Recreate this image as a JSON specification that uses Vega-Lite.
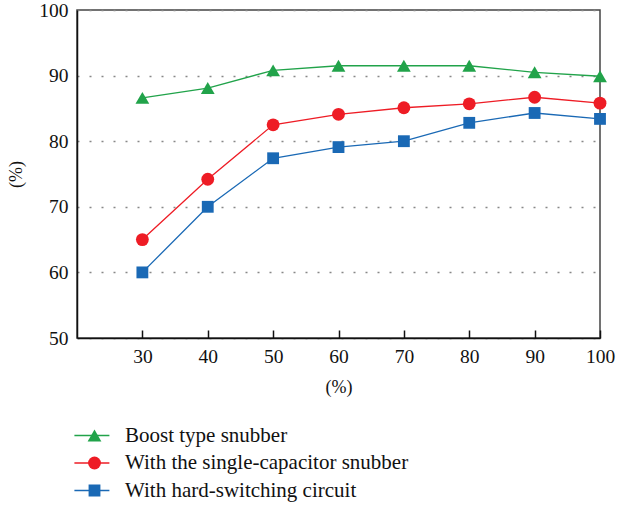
{
  "$schema": "https://vega.github.io/schema/vega-lite/v6.json",
  "width": 523,
  "height": 328,
  "autosize": "none",
  "padding": {"left": 77, "top": 10, "right": 17, "bottom": 167},
  "background": "white",
  "config": {
    "font": "Liberation Serif",
    "view": {"stroke": "#444", "strokeWidth": 1.5},
    "axis": {
      "labelFont": "Liberation Serif",
      "titleFont": "Liberation Serif",
      "labelFontSize": 19.5,
      "titleFontSize": 18,
      "titleFontWeight": "normal",
      "labelColor": "#111",
      "titleColor": "#111",
      "domainColor": "#111",
      "domainWidth": 1.5
    }
  },
  "data": {
    "values": [
      {"load": 30, "eff": 86.6, "series": "Boost type snubber"},
      {"load": 40, "eff": 88.1, "series": "Boost type snubber"},
      {"load": 50, "eff": 90.8, "series": "Boost type snubber"},
      {"load": 60, "eff": 91.5, "series": "Boost type snubber"},
      {"load": 70, "eff": 91.5, "series": "Boost type snubber"},
      {"load": 80, "eff": 91.5, "series": "Boost type snubber"},
      {"load": 90, "eff": 90.5, "series": "Boost type snubber"},
      {"load": 100, "eff": 89.9, "series": "Boost type snubber"},
      {"load": 30, "eff": 65.0, "series": "With the single-capacitor snubber"},
      {"load": 40, "eff": 74.2, "series": "With the single-capacitor snubber"},
      {"load": 50, "eff": 82.5, "series": "With the single-capacitor snubber"},
      {"load": 60, "eff": 84.1, "series": "With the single-capacitor snubber"},
      {"load": 70, "eff": 85.1, "series": "With the single-capacitor snubber"},
      {"load": 80, "eff": 85.7, "series": "With the single-capacitor snubber"},
      {"load": 90, "eff": 86.7, "series": "With the single-capacitor snubber"},
      {"load": 100, "eff": 85.8, "series": "With the single-capacitor snubber"},
      {"load": 30, "eff": 60.0, "series": "With hard-switching circuit"},
      {"load": 40, "eff": 70.0, "series": "With hard-switching circuit"},
      {"load": 50, "eff": 77.4, "series": "With hard-switching circuit"},
      {"load": 60, "eff": 79.1, "series": "With hard-switching circuit"},
      {"load": 70, "eff": 80.0, "series": "With hard-switching circuit"},
      {"load": 80, "eff": 82.8, "series": "With hard-switching circuit"},
      {"load": 90, "eff": 84.3, "series": "With hard-switching circuit"},
      {"load": 100, "eff": 83.4, "series": "With hard-switching circuit"}
    ]
  },
  "encoding": {
    "x": {
      "field": "load", "type": "quantitative",
      "scale": {"domain": [20, 100], "nice": false},
      "axis": {
        "title": "(%)", "values": [30, 40, 50, 60, 70, 80, 90, 100],
        "grid": false, "tickSize": -8, "tickColor": "#111", "tickWidth": 1.5,
        "labelPadding": 17, "titlePadding": 13, "labelFlush": false
      }
    },
    "y": {
      "field": "eff", "type": "quantitative",
      "scale": {"domain": [50, 100], "nice": false},
      "axis": {
        "title": "(%)", "values": [50, 60, 70, 80, 90, 100],
        "ticks": false, "labelPadding": 9, "titlePadding": 13,
        "grid": true, "gridColor": "#888", "gridDash": [2, 10], "gridWidth": 1.5,
        "labelFlush": false
      }
    }
  },
  "resolve": {"legend": {"color": "independent", "shape": "independent", "size": "independent"}},
  "layer": [
    {
      "mark": {"type": "line", "strokeWidth": 1.3},
      "encoding": {
        "color": {
          "field": "series", "type": "nominal",
          "scale": {
            "domain": ["Boost type snubber", "With the single-capacitor snubber", "With hard-switching circuit"],
            "range": ["#21a34a", "#ee1c25", "#1a69b5"]
          },
          "legend": {
            "title": null,
            "orient": "none",
            "legendX": -3.6,
            "legendY": 415,
            "direction": "vertical",
            "symbolType": "stroke",
            "symbolSize": 1225,
            "symbolStrokeWidth": 1.5,
            "clipHeight": 21,
            "labelExpr": "''",
            "labelFontSize": 21,
            "rowPadding": 5.5
          }
        }
      }
    },
    {
      "mark": {"type": "point", "filled": true, "opacity": 1},
      "encoding": {
        "color": {
          "field": "series", "type": "nominal",
          "scale": {
            "domain": ["Boost type snubber", "With the single-capacitor snubber", "With hard-switching circuit"],
            "range": ["#21a34a", "#ee1c25", "#1a69b5"]
          },
          "legend": {
            "title": null,
            "orient": "none",
            "legendX": 7,
            "legendY": 415,
            "direction": "vertical",
            "symbolSize": 144,
            "clipHeight": 21,
            "labelFontSize": 21,
            "labelFont": "Liberation Serif",
            "labelColor": "#111",
            "labelOffset": 20,
            "labelLimit": 500,
            "rowPadding": 5.5
          }
        },
        "shape": {
          "field": "series", "type": "nominal",
          "scale": {
            "domain": ["Boost type snubber", "With the single-capacitor snubber", "With hard-switching circuit"],
            "range": ["triangle-up", "circle", "square"]
          },
          "legend": null
        },
        "size": {
          "field": "series", "type": "ordinal",
          "scale": {
            "domain": ["Boost type snubber", "With the single-capacitor snubber", "With hard-switching circuit"],
            "range": [190, 140, 140]
          },
          "legend": null
        }
      }
    }
  ]
}
